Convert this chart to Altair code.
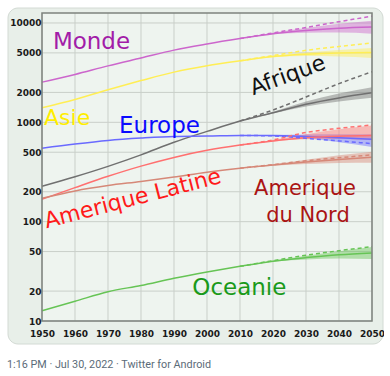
import altair as alt
import pandas as pd

# ---------------- data ----------------
years = [1950, 1960, 1970, 1980, 1990, 2000, 2010, 2020, 2030, 2040, 2050]
proj_years = [2010, 2020, 2030, 2040, 2050]

regions = ["Monde", "Asie", "Afrique", "Europe", "Amerique Latine", "Amerique du Nord", "Oceanie"]

monde = [2536, 3032, 3700, 4440, 5330, 6140, 6960, 7800, 8400, 8850, 9100]
asie = [1400, 1700, 2130, 2630, 3200, 3710, 4160, 4600, 4850, 5000, 5050]
afrique = [227, 283, 360, 470, 630, 810, 1030, 1250, 1520, 1760, 1980]
europe = [549, 605, 657, 694, 721, 727, 738, 735, 720, 700, 675]
amlat = [168, 220, 286, 362, 443, 522, 590, 650, 700, 725, 735]
amnord = [172, 204, 231, 254, 282, 315, 345, 372, 398, 422, 445]
oceanie = [12.7, 15.8, 19.7, 22.8, 26.9, 31.1, 35.5, 40.0, 43.5, 46.5, 48.5]

# projection band (low / high) and dashed variant, 2010..2050
monde_lo = [6960, 7700, 7950, 8000, 7800]
monde_hi = [6960, 7950, 8900, 9800, 10500]
monde_dash = [6960, 7950, 9000, 10300, 11700]
asie_lo = [4160, 4520, 4650, 4600, 4450]
asie_hi = [4160, 4680, 5050, 5350, 5600]
asie_dash = [4160, 4700, 5300, 5800, 6280]
afrique_lo = [1030, 1230, 1440, 1620, 1770]
afrique_hi = [1030, 1280, 1620, 1950, 2260]
afrique_dash = [1030, 1330, 1800, 2450, 3230]
europe_lo = [738, 725, 690, 630, 565]
europe_hi = [738, 745, 755, 760, 760]
europe_dash = [738, 730, 690, 650, 610]
amlat_lo = [590, 640, 675, 680, 660]
amlat_hi = [590, 665, 760, 850, 930]
amlat_dash = [590, 665, 790, 870, 940]
amnord_lo = [345, 365, 380, 390, 392]
amnord_hi = [345, 378, 420, 465, 505]
amnord_dash = [345, 375, 410, 440, 470]
oceanie_lo = [35.5, 39.5, 41.5, 42.5, 42.0]
oceanie_hi = [35.5, 40.5, 45.5, 50.5, 55.5]
oceanie_dash = [35.5, 40.5, 46.0, 51.0, 56.0]

line_colors = ["#aa30b0", "#ffe81a", "#333333", "#3040ff", "#ff3030", "#b8413a", "#4cb040"]
band_colors = ["#cc66cc", "#ffee55", "#707070", "#6a6aff", "#ff7070", "#d68878", "#66c455"]

# labels
label_text = ["Monde", "Asie", "Europe", "Afrique", "Amerique Latine", "Amerique", "du Nord", "Oceanie"]
label_year = [1965.0, 1957.6, 1985.6, 2025.2, 1978.0, 2029.7, 2030.6, 2009.8]
label_value = [5480, 942, 782, 2550, 145.6, 186, 99.3, 18.3]
label_angle = [0, 0, 0, 340, 345.5, 0, 0, 0]
label_color = ["#a21ca8", "#ffee00", "#0a0aff", "#111111", "#ff1a1a", "#aa1414", "#aa1414", "#1a9a1a"]
label_size = [23, 22, 23, 22, 22, 21, 21, 23]

x_ticks = [1950, 1960, 1970, 1980, 1990, 2000, 2010, 2020, 2030, 2040, 2050]
y_ticks = [10, 20, 50, 100, 200, 500, 1000, 2000, 5000, 10000]

footer = "1:16 PM · Jul 30, 2022 · Twitter for Android"

# ---------------- tables ----------------
series = dict(zip(regions, [monde, asie, afrique, europe, amlat, amnord, oceanie]))
lows = dict(zip(regions, [monde_lo, asie_lo, afrique_lo, europe_lo, amlat_lo, amnord_lo, oceanie_lo]))
highs = dict(zip(regions, [monde_hi, asie_hi, afrique_hi, europe_hi, amlat_hi, amnord_hi, oceanie_hi]))
dashes = dict(zip(regions, [monde_dash, asie_dash, afrique_dash, europe_dash, amlat_dash, amnord_dash, oceanie_dash]))

line_df = pd.DataFrame([
    {"region": r, "year": y, "value": v}
    for r in regions for y, v in zip(years, series[r])
])
band_df = pd.DataFrame([
    {"region": r, "year": y, "lo": lo, "hi": hi}
    for r in regions for y, lo, hi in zip(proj_years, lows[r], highs[r])
])
dash_df = pd.DataFrame([
    {"region": r, "year": y, "value": v}
    for r in regions for y, v in zip(proj_years, dashes[r])
])
label_df = pd.DataFrame({
    "text": label_text, "year": label_year, "value": label_value,
    "angle": label_angle, "color": label_color, "fs": label_size,
})
xgrid_df = pd.DataFrame({"year": x_ticks})
ygrid_df = pd.DataFrame({"value": y_ticks})
dummy = pd.DataFrame({"a": [0]})

W, H = 330, 308
FONT = "DejaVu Sans"

xscale = alt.Scale(domain=[1950, 2050], nice=False, zero=False)
yscale = alt.Scale(type="log", domain=[10, 12600], nice=False)

xaxis = alt.Axis(values=x_ticks, format="d", title=None, grid=False, domain=False,
                 ticks=False, labelFont=FONT, labelFontWeight="bold", labelFontSize=9,
                 labelColor="#1a1a1a", labelPadding=8, zindex=1, labelFlush=False,
                 labelOverlap=False)
yaxis = alt.Axis(values=y_ticks, format="d", title=None, grid=False, domain=False,
                 ticks=False, labelFont=FONT, labelFontWeight="bold", labelFontSize=9,
                 labelColor="#1a1a1a", labelPadding=1, zindex=1, labelFlush=False,
                 labelOverlap=False)

X = alt.X("year:Q", scale=xscale, axis=xaxis)
Y = alt.Y("value:Q", scale=yscale, axis=yaxis)

col_line = alt.Color("region:N", scale=alt.Scale(domain=regions, range=line_colors), legend=None)
col_band = alt.Color("region:N", scale=alt.Scale(domain=regions, range=band_colors), legend=None)

card = alt.Chart(dummy).mark_rect(
    cornerRadius=10, fill="#e8efe9", stroke="#d3dad4", strokeWidth=1
).encode(x=alt.value(-34), x2=alt.value(341), y=alt.value(-5), y2=alt.value(331))

plot_bg = alt.Chart(dummy).mark_rect(fill="#eef4ef").encode(
    x=alt.value(0), x2=alt.value(W), y=alt.value(0), y2=alt.value(H))

vgrid = alt.Chart(xgrid_df).mark_rule(color="#c9cfc9", strokeWidth=1).encode(x=X)
hgrid = alt.Chart(ygrid_df).mark_rule(color="#c9cfc9", strokeWidth=1).encode(y=Y)

bands = alt.Chart(band_df).mark_area(opacity=0.45, interpolate="monotone").encode(
    x=X, y=alt.Y("lo:Q", scale=yscale, axis=yaxis), y2="hi:Q", color=col_band,
    detail="region:N")

lines = alt.Chart(line_df).mark_line(strokeWidth=1.5, interpolate="monotone").encode(
    x=X, y=Y, color=col_line, detail="region:N")

dashed = alt.Chart(dash_df).mark_line(strokeWidth=1.5, strokeDash=[4, 3],
                                      interpolate="monotone").encode(
    x=X, y=Y, color=col_line, detail="region:N")

labels = alt.Chart(label_df).mark_text(font=FONT, align="center", baseline="alphabetic").encode(
    x=X, y=Y, text="text:N", angle=alt.Angle("angle:Q", scale=None),
    color=alt.Color("color:N", scale=None), size=alt.Size("fs:Q", scale=None))

frame = alt.Chart(dummy).mark_rect(filled=False, stroke="#7d837d", strokeWidth=1.5).encode(
    x=alt.value(0), x2=alt.value(W), y=alt.value(0), y2=alt.value(H))

foot = alt.Chart(dummy).mark_text(align="left", baseline="alphabetic", font="Roboto",
                                  fontSize=10.8, color="#5b6b78").encode(
    x=alt.value(-35), y=alt.value(355), text=alt.value(footer))

chart = alt.layer(card, plot_bg, vgrid, hgrid, bands, lines, dashed, labels, frame, foot).properties(
    width=W, height=H,
    padding={"left": 42, "top": 13, "right": 12, "bottom": 55},
    autosize=alt.AutoSizeParams(type="none"),
    background="white",
).configure_view(stroke=None)

chart.save("out.html", embed_options={"renderer": "svg", "actions": False})
